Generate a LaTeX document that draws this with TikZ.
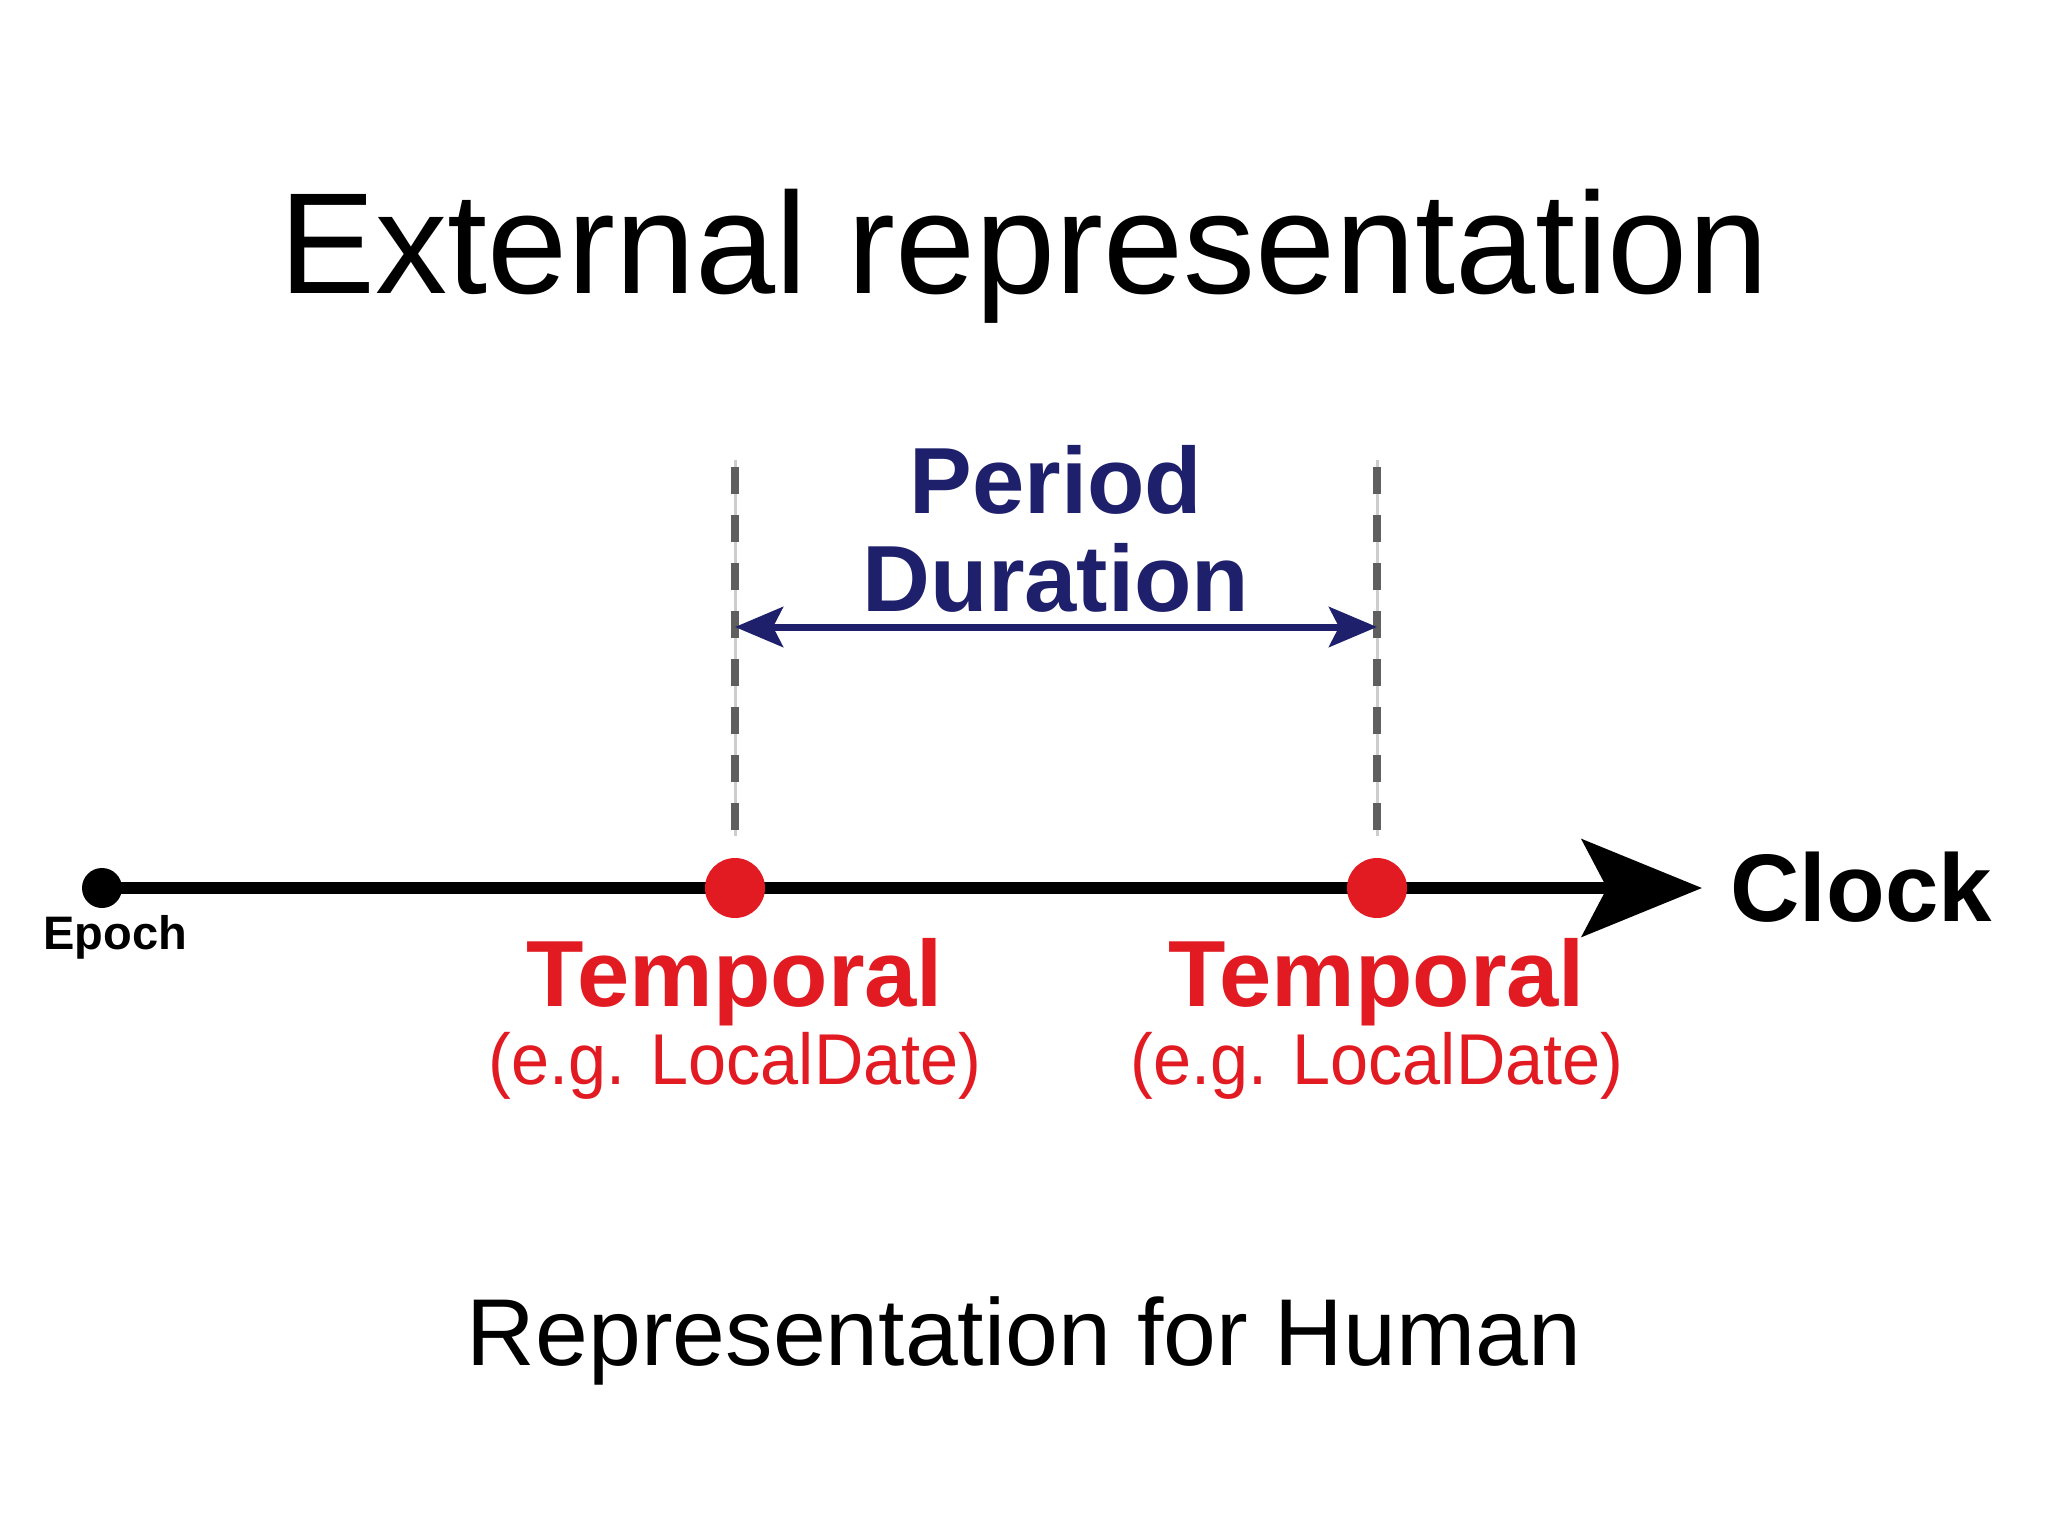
\documentclass[tikz,border=0pt]{standalone}
\usepackage{fontspec}
\setmainfont{Liberation Sans}
\usetikzlibrary{arrows.meta}
\definecolor{tred}{RGB}{226,26,34}
\definecolor{tnavy}{RGB}{30,32,108}
\definecolor{dgray}{RGB}{95,95,95}
\definecolor{lgray}{RGB}{205,205,205}
\tikzset{
  txt/.style={inner sep=0pt, anchor=base},
  reddot/.style={circle, fill=tred, inner sep=0pt, minimum size=30pt},
  blackdot/.style={circle, fill=black, inner sep=0pt, minimum size=20pt},
  guide/.style={draw=lgray, line width=1.5pt},
  guidedash/.style={draw=dgray, line width=3.6pt, dash pattern=on 13.5pt off 10.5pt},
  timeline/.style={line width=6pt, -{Stealth[length=60pt,width=48.5pt,inset=12.5pt]}},
  span/.style={draw=tnavy, line width=3.5pt, {Stealth[length=24pt,width=20pt,inset=5pt]}-{Stealth[length=24pt,width=20pt,inset=5pt]}}
}
\begin{document}
\begin{tikzpicture}[x=0.5pt,y=-0.5pt]
\useasboundingbox[fill=white] (0,0) rectangle (2048,1536);
% coordinates
\coordinate (ep) at (102,888);
\coordinate (tip) at (1702,888);
\coordinate (p1) at (735,888);
\coordinate (p2) at (1377,888);
\coordinate (g1t) at (735,467);
\coordinate (g1b) at (735,831);
\coordinate (g2t) at (1377,467);
\coordinate (g2b) at (1377,831);
\coordinate (g1tt) at (735,460);
\coordinate (g1bb) at (735,836);
\coordinate (g2tt) at (1377,460);
\coordinate (g2bb) at (1377,836);
\coordinate (sl) at (735,627);
\coordinate (sr) at (1377,627);
% title
\node[txt, font=\fontsize{72}{80}\selectfont] (title) at (1024,293) {External representation};
% guides
\draw[guide] (g1tt) -- (g1bb);
\draw[guide] (g2tt) -- (g2bb);
\draw[guidedash] (g1t) -- (g1b);
\draw[guidedash] (g2t) -- (g2b);
% period / duration
\node[txt, text=tnavy, font=\bfseries\fontsize{47}{50}\selectfont] (period) at (1056,513) {Period};
\node[txt, text=tnavy, font=\bfseries\fontsize{47}{50}\selectfont] (duration) at (1056,611) {Duration};
\draw[span] (sl) -- (sr);
% timeline
\draw[timeline] (ep) -- (tip);
\node[blackdot] (epoch) at (ep) {};
\node[reddot] (t1) at (p1) {};
\node[reddot] (t2) at (p2) {};
\node[txt, anchor=base west, font=\bfseries\fontsize{23.5}{26}\selectfont] (epochlbl) at (43,949) {Epoch};
\node[txt, anchor=base west, font=\bfseries\fontsize{48}{52}\selectfont] (clock) at (1730,921) {Clock};
% temporal labels
\node[txt, text=tred, font=\bfseries\fontsize{47}{50}\selectfont] (temp1) at (735,1006) {Temporal};
\node[txt, text=tred, font=\fontsize{36}{40}\selectfont] (eg1) at (735,1084) {\scalebox{0.95}[1]{(e.g. LocalDate)}};
\node[txt, text=tred, font=\bfseries\fontsize{47}{50}\selectfont] (temp2) at (1377,1006) {Temporal};
\node[txt, text=tred, font=\fontsize{36}{40}\selectfont] (eg2) at (1377,1084) {\scalebox{0.95}[1]{(e.g. LocalDate)}};
% bottom
\node[txt, font=\fontsize{47.5}{52}\selectfont] (human) at (1024,1365) {Representation for Human};
\end{tikzpicture}
\end{document}
